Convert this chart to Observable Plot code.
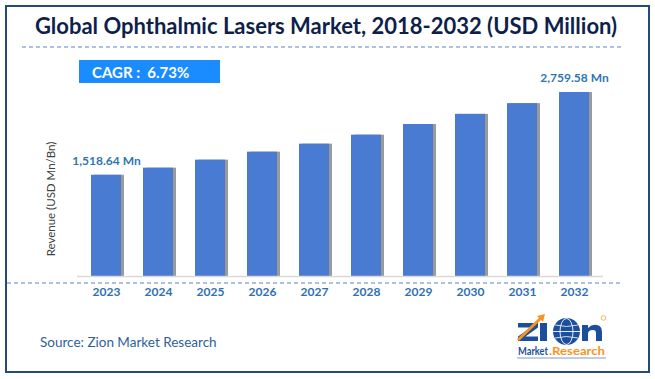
<!DOCTYPE html>
<html>
<head>
<meta charset="utf-8">
<script src="https://cdn.jsdelivr.net/npm/d3@7"></script>
<script src="https://cdn.jsdelivr.net/npm/@observablehq/plot@0.6"></script>
<style>
  html, body { margin: 0; padding: 0; background: #fff; }
  #chart svg { display: block; }
</style>
</head>
<body>
<div id="chart"></div>
<script>
const years = ["2023","2024","2025","2026","2027","2028","2029","2030","2031","2032"];
const revenue = [1518.64, 1625, 1745, 1865, 1985, 2120, 2280, 2432, 2593, 2759.58];
const endLabels = ["1,518.64 Mn", "", "", "", "", "", "", "", "", "2,759.58 Mn"];
const titleText = "Global Ophthalmic Lasers Market, 2018-2032 (USD Million)";
const cagrText = "CAGR :  6.73%";
const yLabel = "Revenue (USD Mn/Bn)";
const sourceText = "Source: Zion Market Research";

const data = years.map((y, i) => ({year: y, value: revenue[i], label: endLabels[i]}));

const FONT = "Lato, 'Open Sans', sans-serif";

const plot = Plot.plot({
  width: 655,
  height: 379,
  marginLeft: 77,
  marginRight: 52,
  marginTop: 0,
  marginBottom: 103,
  style: {fontFamily: FONT, background: "#fff", overflow: "visible"},
  x: {domain: years, paddingInner: 0.4286, paddingOuter: 0.21, label: null},
  y: {domain: [0, 3000], range: [276, 76], axis: null},
  marks: [
    Plot.barY(data, {x: "year", y: "value", fill: "#9a9a9a", dx: 3, ariaLabel: "shadow"}),
    Plot.barY(data, {x: "year", y: "value", fill: "#4a7bd2"}),
    Plot.ruleY([0], {stroke: "#d9d9d9", strokeWidth: 1.5}),
    Plot.text(data.filter(d => d.label), {x: "year", y: "value", text: "label", dy: -14,
      fill: "#2e75b6", fontWeight: "bold", fontSize: 12}),
    Plot.axisX({tickSize: 0, tickPadding: 11, fill: "#2f6fb5", fontWeight: "bold", fontSize: 12, label: null})
  ]
});

document.getElementById("chart").appendChild(plot);

const svg = d3.select(plot);
// blur filter for bar shadows
const defs = svg.insert("defs", ":first-child");
defs.append("filter").attr("id", "shadowBlur").attr("x", "-50%").attr("width", "200%")
  .append("feGaussianBlur").attr("stdDeviation", 2);
svg.select('g[aria-label="shadow"]').attr("filter", "url(#shadowBlur)").attr("opacity", 0.65);

const deco = svg.append("g").attr("font-family", FONT).attr("text-anchor", "start");

// frame
deco.append("rect").attr("x", 6).attr("y", 6).attr("width", 643).attr("height", 366)
  .attr("fill", "none").attr("stroke", "#24497a").attr("stroke-width", 2);

// title
deco.append("text").attr("x", 326).attr("y", 34).attr("text-anchor", "middle")
  .attr("font-size", 22).attr("font-weight", "bold").attr("fill", "#0f1f4b")
  .text(titleText);

// dashed lines
deco.append("line").attr("x1", 22).attr("x2", 621).attr("y1", 47).attr("y2", 47)
  .attr("stroke", "#5b83c7").attr("stroke-width", 1).attr("stroke-dasharray", "4,3");
deco.append("line").attr("x1", 7).attr("x2", 620).attr("y1", 283).attr("y2", 283)
  .attr("stroke", "#5b83c7").attr("stroke-width", 1).attr("stroke-dasharray", "4,3");

// CAGR box
deco.append("rect").attr("x", 79).attr("y", 60).attr("width", 141).attr("height", 23).attr("fill", "#1a8cff");
deco.append("text").attr("x", 92).attr("y", 78).attr("font-size", 15).attr("font-weight", "bold")
  .attr("fill", "#fff").style("white-space", "pre").text(cagrText);

// y label
deco.append("text").attr("transform", "translate(55,199) rotate(-90)").attr("text-anchor", "middle")
  .attr("font-size", 11.5).attr("fill", "#404040").text(yLabel);

// source
deco.append("text").attr("x", 40).attr("y", 347).attr("font-size", 13.5).attr("fill", "#2e5f99").text(sourceText);

// logo (shapes)
const BLUE = "#1b4f9c", ORANGE = "#f7941d";
const logo = deco.append("g");
logo.append("path").attr("d", "M518,323 H538 V327.5 L525.5,336.5 H538 V341 H518 V336.5 L530.5,327.5 H518 Z").attr("fill", BLUE);
logo.append("rect").attr("x", 540).attr("y", 323).attr("width", 7).attr("height", 18).attr("fill", BLUE);
logo.append("circle").attr("cx", 566.5).attr("cy", 331.5).attr("r", 13.5).attr("fill", BLUE);
logo.append("ellipse").attr("cx", 566.5).attr("cy", 331.5).attr("rx", 6.5).attr("ry", 13).attr("fill", "none").attr("stroke", "#fff").attr("stroke-width", 0.9);
logo.append("line").attr("x1", 553).attr("x2", 580).attr("y1", 331.5).attr("y2", 331.5).attr("stroke", "#fff").attr("stroke-width", 0.9);
logo.append("path").attr("d", "M555,325 Q566.5,328 578,325 M555,338 Q566.5,335 578,338").attr("fill", "none").attr("stroke", "#fff").attr("stroke-width", 0.8);
logo.append("path").attr("d", "M582,341 V325 H588 V328 Q592,324 597,325 Q602,326 602,332 V341 H596 V333 Q596,330 593,330 Q588,330 588,334 V341 Z").attr("fill", BLUE);
logo.append("path").attr("d", "M518,340 L541,318").attr("stroke", ORANGE).attr("stroke-width", 3);
logo.append("path").attr("d", "M537,316 L545,314 L543,322 Z").attr("fill", ORANGE);
logo.append("text").attr("x", 518).attr("y", 355).attr("font-size", 10.5).attr("font-weight", "bold")
  .attr("fill", BLUE).attr("textLength", 30).attr("lengthAdjust", "spacingAndGlyphs").text("Market");
logo.append("text").attr("x", 549).attr("y", 355).attr("font-size", 10.5).attr("font-weight", "bold")
  .attr("fill", ORANGE).attr("textLength", 56).attr("lengthAdjust", "spacingAndGlyphs").text(".Research");
logo.append("path").attr("d", "M517,358 L606,358").attr("stroke", "#5b83c7").attr("stroke-width", 0.8);
logo.append("circle").attr("cx", 603.5).attr("cy", 318).attr("r", 2.3).attr("fill", "none").attr("stroke", ORANGE).attr("stroke-width", 0.7);
</script>
</body>
</html>
